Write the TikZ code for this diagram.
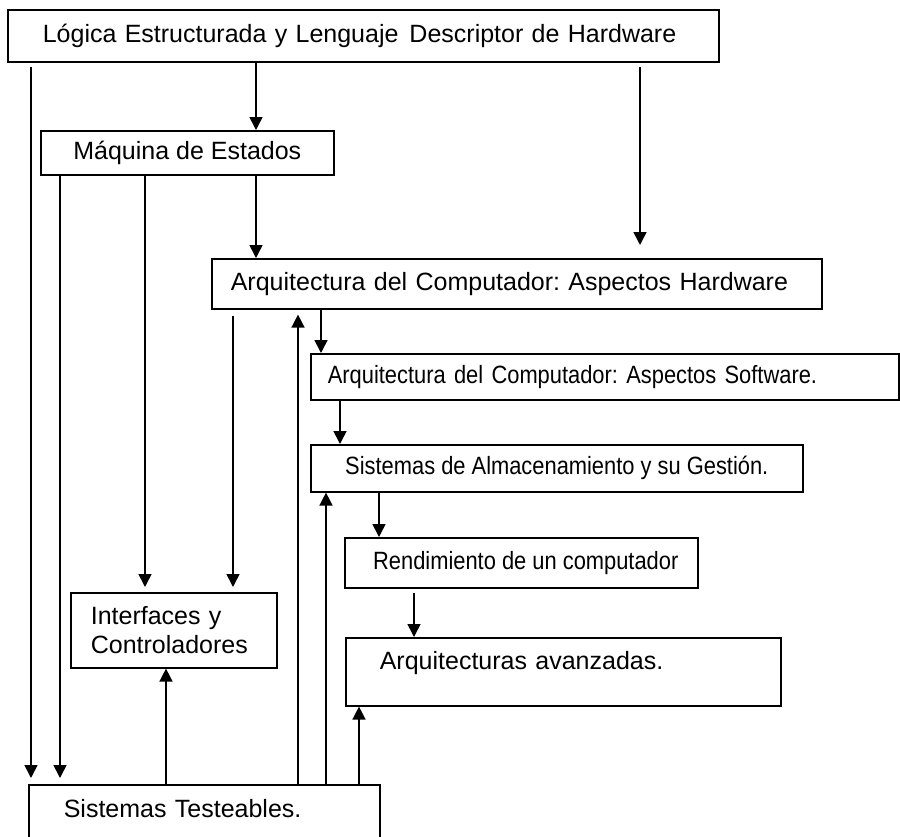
\documentclass[tikz,border=0pt]{standalone}
\usepackage{fontspec}
\setmainfont{Liberation Sans}
\newfontfamily\estrecha[FakeStretch=0.875]{Liberation Sans}
\usetikzlibrary{arrows.meta}
\frenchspacing

\tikzset{
  caja/.style={rectangle, draw=black, line width=1.6pt, inner ysep=0pt, anchor=north west},
  chica/.style={font=\estrecha\fontsize{25}{29}\selectfont},
  flecha/.style={line width=1.6pt, -{Triangle[length=13pt,width=13pt]}}
}

\begin{document}
\begin{tikzpicture}[x=1pt,y=-1pt,font=\fontsize{25}{29}\selectfont]

   %   \draw[help lines, step=50] (0,0) grid (900,836);
      \clip (0,0) rectangle (900,836);

      \node [caja, minimum height=52pt, text width=641pt, inner xsep=35pt, align=left] (logica) at (7, 9) {Lógica Estructurada y Lenguaje\hspace{11pt}Descriptor de Hardware};

      \node [caja, minimum height=44pt, minimum width=293pt] (maquina) at (40, 130) {Máquina de Estados};

      \node [caja, minimum height=50pt, text width=572pt, inner xsep=19pt, align=left] (archw) at (211, 258) {Arquitectura del Computador: Aspectos Hardware};

      \node [caja, chica, minimum height=46pt, text width=554pt, inner xsep=17pt, align=left] (arcsw) at (310, 353) {Arquitectura del Computador: Aspectos Software.};

      \node [caja, chica, minimum height=47pt, minimum width=492pt] (almac) at (310, 444) {Sistemas de Almacenamiento y su Gestión.};

      \node [caja, chica, minimum height=50pt, minimum width=353pt] (rend) at (344, 537) {\hspace{9pt}Rendimiento de un computador};

      \node [caja, minimum height=68pt, text width=367pt, inner xsep=34pt, align=left, text height=18pt, text depth=22pt] (avanz) at (345, 637) {Arquitecturas avanzadas.};

      \node [caja, minimum height=75pt, text width=166pt, inner xsep=20pt, align=left] (interf) at (70, 592) {Interfaces y\\Controladores};

      \node [caja, minimum height=80pt, text width=281pt, inner xsep=35pt, align=left, text height=18pt, text depth=32pt] (testeab) at (28, 784) {Sistemas Testeables.};



      \draw[flecha, shorten <=4pt, shorten >=6pt] (logica.south -| 31,0) -- (testeab.north -| 31,0);
      \draw[flecha] (logica.south -| 256,0) -- (maquina.north -| 256,0);
      \draw[flecha, shorten <=4pt, shorten >=13pt] (logica.south -| 640,0) -- (archw.north -| 640,0);

      \draw[flecha, shorten >=6pt] (maquina.south -| 60,0) -- (testeab.north -| 60,0);
      \draw[flecha, shorten >=5pt] (maquina.south -| 145,0) -- (interf.north -| 145,0);
      \draw[flecha] (maquina.south -| 256,0) -- (archw.north -| 256,0);

      \draw[flecha, shorten <=6pt, shorten >=5pt] (archw.south -| 233,0) -- (interf.north -| 233,0);
      \draw[flecha] (archw.south -| 321,0) -- (arcsw.north -| 321,0);
      \draw[flecha] (arcsw.south -| 340,0) -- (almac.north -| 340,0);
      \draw[flecha] (almac.south -| 379,0) -- (rend.north -| 379,0);
      \draw[flecha, shorten <=4pt] (rend.south -| 414,0) -- (avanz.north -| 414,0);

      \draw[flecha] (testeab.north -| 166,0) -- (interf.south -| 166,0);
      \draw[flecha, shorten >=5pt] (testeab.north -| 298,0) -- (archw.south -| 298,0);
      \draw[flecha] (testeab.north -| 326,0) -- (almac.south -| 326,0);
      \draw[flecha] (testeab.north -| 359,0) -- (avanz.south -| 359,0);

    \end{tikzpicture}
\end{document}
